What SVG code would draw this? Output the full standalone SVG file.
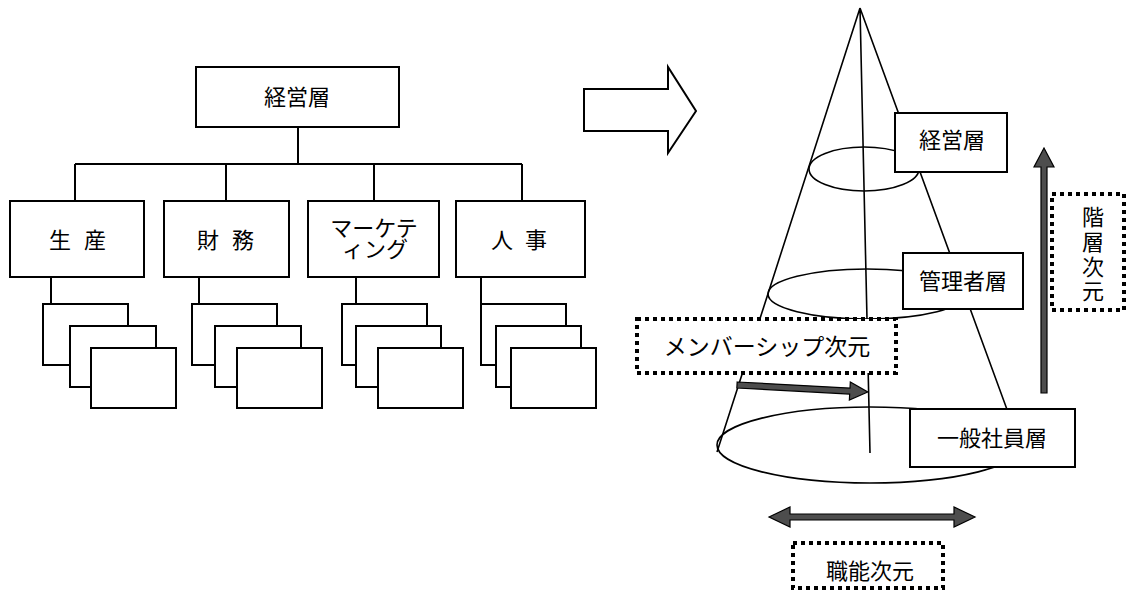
<svg xmlns="http://www.w3.org/2000/svg" width="1128" height="591" viewBox="0 0 1128 591">
<style>
.box{fill:#fff;stroke:#000;stroke-width:2}
.ln{fill:none;stroke:#000;stroke-width:2}
.thin{fill:none;stroke:#000;stroke-width:1.6}
.dot{fill:#fff;stroke:#000;stroke-width:4;stroke-dasharray:4 4}
.t{font-family:"Noto Sans CJK JP","Noto Sans",sans-serif;font-size:22px;fill:#000;text-anchor:middle}
.v{font-size:22px}
.arr{fill:#4d4d4d;stroke:#000;stroke-width:1.2}
</style>
<rect width="1128" height="591" fill="#fff"/>

<!-- tree connectors -->
<g id="connectors">
<path class="ln" d="M298 127V164M75 164H522M75 164V201M226 164V201M374 164V201M522 164V201"/>
<path class="ln" d="M51 277V304M199 277V304M356 277V326M481 277V365"/>
</g>

<g id="n-top"><rect class="box" x="196" y="67" width="203" height="60"/><text class="t" x="297" y="105">経営層</text></g>

<g id="n-seisan"><rect class="box" x="10" y="201" width="134" height="76"/><text class="t" y="248"><tspan x="60">生</tspan><tspan x="95">産</tspan></text></g>
<g id="n-zaimu"><rect class="box" x="164" y="201" width="125" height="76"/><text class="t" y="248"><tspan x="208">財</tspan><tspan x="243">務</tspan></text></g>
<g id="n-marketing"><rect class="box" x="308" y="201" width="131" height="76"/><text class="t" x="374" y="236">マーケテ</text><text class="t" x="375" y="257">ィング</text></g>
<g id="n-jinji"><rect class="box" x="456" y="201" width="129" height="76"/><text class="t" y="248"><tspan x="502">人</tspan><tspan x="536">事</tspan></text></g>

<g id="sub-seisan"><rect class="box" x="43" y="304" width="85" height="61"/><rect class="box" x="70" y="326" width="86" height="61"/><rect class="box" x="91" y="348" width="85" height="60"/></g>
<g id="sub-zaimu"><rect class="box" x="192" y="304" width="85" height="61"/><rect class="box" x="215" y="326" width="86" height="61"/><rect class="box" x="237" y="348" width="85" height="60"/></g>
<g id="sub-marketing"><rect class="box" x="342" y="304" width="85" height="61"/><rect class="box" x="356" y="326" width="85" height="61"/><rect class="box" x="378" y="348" width="85" height="60"/></g>
<g id="sub-jinji"><rect class="box" x="481" y="304" width="85" height="61"/><rect class="box" x="496" y="326" width="85" height="61"/><rect class="box" x="511" y="348" width="85" height="60"/></g>

<g id="big-arrow"><polygon class="box" points="584,89 668,89 668,67 696,111 668,153 668,131 584,131"/></g>

<!-- cone -->
<g id="cone">
<path class="thin" d="M860 8L717 452M860 8L1020 445M860 8L870 453"/>
<ellipse class="thin" cx="864" cy="169" rx="55" ry="22"/>
<ellipse class="thin" cx="867" cy="294" rx="99" ry="25"/>
<ellipse class="thin" cx="870" cy="445" rx="153" ry="38"/>
</g>

<g id="n-keiei2"><rect class="box" x="895" y="113" width="112" height="59"/><text class="t" x="952" y="148">経営層</text></g>
<g id="n-kanri"><rect class="box" x="903" y="253" width="120" height="56"/><text class="t" x="963" y="289">管理者層</text></g>
<g id="n-ippan"><rect class="box" x="910" y="409" width="165" height="58"/><text class="t" x="992" y="446">一般社員層</text></g>

<g id="n-member"><rect class="dot" x="637" y="319" width="259" height="54"/><text class="t" x="767" y="355" style="font-size:23px">メンバーシップ次元</text></g>
<g id="n-kaiso"><rect class="dot" x="1052" y="194" width="72" height="116"/>
<text class="t v" x="1093" y="225">階</text><text class="t v" x="1093" y="250">層</text><text class="t v" x="1093" y="275">次</text><text class="t v" x="1093" y="299">元</text></g>
<g id="n-shokuno"><rect class="dot" x="793" y="543" width="150" height="45"/><text class="t" x="870" y="579">職能次元</text></g>

<g id="dim-arrows">
<polygon class="arr" transform="rotate(3.06 737 385)" points="737,382 850,382 850,376 868,385 850,394 850,388 737,388"/>
<polygon class="arr" points="1041,393 1041,167 1034,167 1044,148 1054,167 1047,167 1047,393"/>
<polygon class="arr" points="769,517 790,507 790,514 954,514 954,507 975,517 954,527 954,520 790,520 790,527"/>
</g>
</svg>
